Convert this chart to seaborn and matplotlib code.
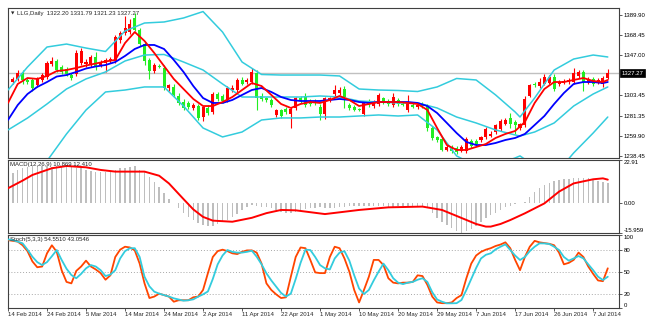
import numpy as np
import pandas as pd
import matplotlib
matplotlib.use("Agg")
import matplotlib.pyplot as plt
import matplotlib.transforms as mtransforms
import seaborn as sns

sns.set_style("white")
plt.rcParams['font.family'] = ['Liberation Sans', 'DejaVu Sans']

# ---------------- data ----------------
date_labels = ["14 Feb 2014", "24 Feb 2014", "5 Mar 2014", "14 Mar 2014", "24 Mar 2014",
               "2 Apr 2014", "11 Apr 2014", "22 Apr 2014", "1 May 2014", "10 May 2014",
               "20 May 2014", "29 May 2014", "7 Jun 2014", "17 Jun 2014", "26 Jun 2014",
               "7 Jul 2014"]
date_bars = [0, 8, 16, 24, 32, 40, 48, 56, 64, 72, 80, 88, 96, 104, 112, 120]

opens = [1301, 1318, 1321, 1327, 1320, 1320, 1314, 1320, 1323, 1337,
         1340, 1334, 1332, 1325, 1326, 1338, 1337, 1336, 1345, 1336,
         1338, 1340, 1340, 1363, 1370, 1371, 1386, 1373, 1358, 1341,
         1329, 1335, 1333, 1311, 1312, 1303, 1296, 1295, 1290, 1292,
         1280, 1290, 1285, 1305, 1303, 1298, 1309, 1309, 1320, 1318,
         1318, 1327, 1303, 1300, 1298, 1282, 1287, 1289, 1283, 1290,
         1300, 1303, 1297, 1296, 1291, 1283, 1298, 1305, 1306, 1310,
         1293, 1291, 1289, 1283, 1297, 1292, 1294, 1300, 1297, 1293,
         1298, 1294, 1287, 1293, 1291, 1294, 1292, 1268, 1258, 1256,
         1245, 1248, 1247, 1244, 1243, 1254, 1254, 1255, 1258, 1260,
         1264, 1267, 1273, 1279, 1275, 1268, 1271, 1303, 1315, 1313,
         1316, 1317, 1323, 1315, 1317, 1318, 1318, 1324, 1328, 1317,
         1321, 1318, 1315, 1322.20]
highs = [1321, 1323, 1330, 1331, 1322, 1322, 1323, 1327, 1340, 1344,
         1342, 1336, 1334, 1327, 1352, 1354, 1342, 1347, 1350, 1341,
         1343, 1345, 1368, 1372, 1388, 1385, 1392, 1376, 1361, 1343,
         1338, 1337, 1336, 1316, 1315, 1306, 1299, 1297, 1295, 1294,
         1292, 1293, 1307, 1307, 1305, 1313, 1314, 1322, 1323, 1322,
         1333, 1330, 1306, 1302, 1300, 1289, 1289, 1291, 1291, 1302,
         1303, 1306, 1299, 1299, 1294, 1302, 1302, 1314, 1312, 1313,
         1295, 1293, 1290, 1297, 1299, 1298, 1306, 1302, 1299, 1306,
         1300, 1296, 1304, 1295, 1294, 1296, 1294, 1270, 1260, 1258,
         1250, 1250, 1249, 1250, 1258, 1256, 1256, 1260, 1269, 1265,
         1273, 1278, 1279, 1284, 1277, 1274, 1303, 1316, 1318, 1322,
         1326, 1325, 1326, 1320, 1321, 1322, 1333, 1331, 1331, 1323,
         1323, 1322, 1324, 1331.79]
lows = [1295, 1316, 1319, 1316, 1316, 1308, 1312, 1318, 1321, 1335,
        1328, 1326, 1324, 1320, 1324, 1336, 1334, 1334, 1330, 1334,
        1328, 1338, 1338, 1360, 1368, 1369, 1372, 1356, 1336, 1321,
        1327, 1333, 1309, 1308, 1302, 1293, 1288, 1289, 1287, 1277,
        1276, 1282, 1283, 1297, 1295, 1296, 1307, 1307, 1314, 1316,
        1316, 1287, 1297, 1296, 1291, 1280, 1279, 1283, 1268, 1288,
        1295, 1291, 1292, 1293, 1277, 1278, 1296, 1303, 1304, 1290,
        1288, 1286, 1286, 1281, 1291, 1290, 1292, 1294, 1292, 1291,
        1292, 1292, 1285, 1290, 1289, 1290, 1265, 1255, 1253, 1243,
        1243, 1241, 1240, 1242, 1241, 1247, 1249, 1253, 1256, 1258,
        1262, 1265, 1271, 1268, 1262, 1266, 1269, 1301, 1312, 1311,
        1314, 1315, 1308, 1313, 1315, 1316, 1316, 1322, 1308, 1315,
        1313, 1316, 1312, 1321.23]
closes = [1319, 1321, 1327, 1320, 1318, 1311, 1322, 1325, 1338, 1340,
          1330, 1328, 1326, 1322, 1349, 1351, 1339, 1345, 1334, 1339,
          1341, 1342, 1366, 1370, 1376, 1380, 1374, 1358, 1340, 1329,
          1336, 1334, 1311, 1314, 1304, 1295, 1290, 1291, 1293, 1279,
          1291, 1284, 1305, 1299, 1297, 1311, 1311, 1320, 1316, 1320,
          1328, 1300, 1299, 1298, 1293, 1287, 1281, 1285, 1289, 1300,
          1297, 1293, 1294, 1295, 1283, 1300, 1300, 1309, 1309, 1301,
          1290, 1288, 1287, 1295, 1293, 1296, 1304, 1296, 1294, 1302,
          1294, 1293, 1295, 1291, 1293, 1292, 1268, 1257, 1255, 1245,
          1248, 1243, 1242, 1248, 1256, 1249, 1251, 1258, 1267, 1262,
          1271, 1276, 1277, 1273, 1271, 1272, 1299, 1314, 1314, 1318,
          1323, 1323, 1310, 1318, 1319, 1320, 1327, 1328, 1318, 1321,
          1316, 1320, 1322, 1327.27]

# Bollinger bands (sampled bars)
bb_bars = [0, 4, 8, 12, 16, 20, 24, 28, 32, 36, 40, 44, 48, 52, 56, 60, 64, 68,
           72, 76, 80, 84, 88, 92, 96, 100, 104, 105, 108, 112, 116, 120, 123]
bb_upper = [1309.0, 1333.7, 1355.2, 1358.4, 1354.1, 1350.4, 1372.4, 1381.0, 1382.1,
            1386.4, 1393.3, 1371.3, 1339.1, 1325.7, 1325.1, 1325.1, 1325.1, 1324.1,
            1310.1, 1309.0, 1308.5, 1307.4, 1312.3, 1321.4, 1319.8, 1303.7, 1285.4,
            1280.0, 1300.4, 1330.5, 1342.3, 1346.6, 1344.5]
bb_middle = [1266.1, 1278.9, 1294.0, 1310.1, 1320.9, 1328.4, 1340.2, 1346.6, 1347.2,
             1339.1, 1330.5, 1315.5, 1301.5, 1301.5, 1301.5, 1301.5, 1302.6, 1301.5,
             1297.2, 1296.1, 1295.1, 1295.1, 1289.7, 1280.0, 1273.6, 1266.1, 1260.7,
             1259.6, 1263.9, 1273.6, 1291.8, 1304.7, 1312.3]
bb_lower = [1223.1, 1224.2, 1232.8, 1261.8, 1287.5, 1306.9, 1309.0, 1312.3, 1312.3,
            1291.8, 1268.2, 1258.6, 1263.9, 1276.8, 1279.0, 1279.0, 1280.0, 1280.0,
            1281.1, 1282.2, 1281.1, 1282.2, 1266.1, 1238.2, 1227.4, 1228.5, 1236.0,
            1238.2, 1227.4, 1216.7, 1241.4, 1262.8, 1280.0]

# moving averages (every second bar + last)
ma_bars = list(range(0, 123, 2)) + [123]
ma_fast = [1295.1, 1315.5, 1321.9, 1320.9, 1324.1, 1329.4, 1330.5, 1332.7, 1335.3, 1337.5,
           1339.7, 1341.3, 1359.5, 1371.3, 1361.7, 1348.8, 1334.8, 1320.9, 1310.1, 1299.4,
           1291.8, 1291.8, 1296.1, 1301.5, 1309.0, 1316.5, 1313.3, 1303.7, 1294.0, 1289.7,
           1294.0, 1296.1, 1295.1, 1298.3, 1302.6, 1298.3, 1291.8, 1294.0, 1296.1, 1296.1,
           1296.1, 1295.1, 1294.0, 1287.6, 1268.2, 1249.9, 1244.6, 1244.6, 1247.8, 1251.0,
           1257.5, 1261.8, 1265.0, 1274.7, 1295.1, 1310.1, 1317.6, 1317.6, 1319.8, 1321.9,
           1318.7, 1317.6, 1319.8]
ma_slow = [1276.8, 1292.9, 1304.7, 1312.3, 1317.6, 1323.5, 1325.1, 1328.4, 1332.1, 1334.3,
           1335.9, 1339.1, 1345.6, 1353.1, 1357.4, 1357.4, 1353.1, 1341.3, 1328.4, 1313.3,
           1300.4, 1295.1, 1295.1, 1298.3, 1303.7, 1309.0, 1311.2, 1306.9, 1301.5, 1298.3,
           1297.2, 1297.2, 1297.2, 1298.3, 1299.4, 1298.3, 1296.1, 1295.1, 1296.1, 1296.1,
           1296.1, 1296.1, 1295.1, 1291.8, 1284.3, 1273.6, 1262.8, 1253.2, 1249.9, 1249.9,
           1252.1, 1255.3, 1257.5, 1261.8, 1271.4, 1281.1, 1294.0, 1305.8, 1315.5, 1317.6,
           1317.6, 1316.5, 1317.6]

price_ticks = [1389.90, 1368.45, 1347.00, 1303.45, 1281.35, 1259.90, 1238.45]

# MACD(12,26,9)
macd_main = [14.0, 16.1, 17.6, 18.5, 19.3, 19.7, 19.8, 19.8, 19.7, 19.3,
             19.7, 19.3, 19.3, 19.0, 18.5, 18.5, 17.6, 17.2, 16.7, 16.7,
             16.7, 16.7, 17.6, 18.5, 18.5, 19.3, 19.7, 17.6, 16.7, 14.0,
             11.3, 8.7, 5.4, 1.9, 0.1, -2.9, -5.6, -7.4, -9.2, -11.0,
             -11.9, -12.4, -12.4, -11.3, -10.1, -9.2, -7.4, -6.0, -3.8, -2.4,
             -1.1, -1.7, -2.0, -2.4, -2.9, -3.8, -4.7, -5.6, -5.6, -4.7,
             -3.8, -3.5, -2.9, -2.9, -2.4, -3.0, -2.9, -2.9, -2.4, -2.0,
             -1.7, -1.7, -1.7, -1.7, -1.7, -1.7, -1.7, -1.7, -2.0, -2.0,
             -1.7, -1.7, -1.7, -1.7, -1.7, -2.0, -2.9, -5.6, -8.3, -10.1,
             -11.9, -13.5, -15.0, -15.959, -15.2, -13.8, -12.4, -10.1, -8.3, -6.5,
             -5.2, -3.8, -2.4, -1.7, -0.6, -0.3, 0.6, 3.3, 6.0, 7.8,
             9.5, 10.8, 11.9, 12.2, 12.6, 12.6, 13.1, 13.5, 13.1, 13.1,
             12.6, 11.9, 11.4, 10.869]
sig_bars = [0, 3, 5, 9, 12, 16, 19, 22, 28, 31, 33, 36, 38, 40, 42, 46, 50, 53, 56, 59,
            62, 65, 72, 78, 85, 89, 92, 96, 98, 99, 101, 103, 106, 110, 113, 116, 120, 122, 123]
macd_signal = [7.8, 11.9, 14.9, 18.5, 19.7, 19.0, 17.6, 16.7, 16.7, 14.5,
               10.4, 2.0, -3.5, -7.5, -9.5, -10.1, -8.0, -5.5, -3.8, -4.0,
               -5.0, -6.0, -3.8, -2.4, -2.0, -3.8, -7.0, -11.3, -12.7, -12.7,
               -11.3, -9.2, -5.6, -0.3, 6.0, 10.4, 12.6, 13.1, 12.41]
macd_ticks = [22.91, 0.00, -15.959]

# Stochastic(5,3,3)
stoch_main = [93, 92, 91, 86, 78, 64, 56, 57, 75, 86,
              77, 52, 36, 34, 51, 57, 65, 57, 53, 48,
              39, 45, 70, 80, 84, 83, 79, 61, 34, 14,
              16, 20, 18, 16, 9, 11, 11, 11, 15, 16,
              25, 48, 70, 78, 80, 78, 75, 74, 77, 79,
              79, 76, 61, 34, 25, 19, 14, 15, 43, 70,
              83, 82, 66, 49, 48, 48, 70, 84, 82, 68,
              50, 25, 8, 25, 43, 66, 66, 59, 41, 35,
              34, 35, 35, 36, 45, 44, 32, 16, 8, 7,
              7, 8, 14, 18, 41, 61, 72, 77, 80, 82,
              85, 87, 90, 82, 66, 52, 70, 84, 92, 90,
              89, 88, 86, 76, 60, 62, 66, 76, 70, 57,
              47, 38, 37, 54.551]
stoch_signal = [94, 93, 91, 88.6, 80, 70.4, 63, 59, 63, 71,
                79.5, 66, 54, 45.4, 41, 47, 54.5, 59, 57, 52,
                44, 46, 52, 68, 78, 82, 82, 70, 43, 30,
                22.7, 20, 18, 16, 13.6, 12, 10.4, 11, 12.2, 15.9,
                19, 23, 40, 60, 72, 79.5, 77, 76, 76, 77,
                78.6, 70.4, 60, 47.7, 38, 29.5, 21, 16, 20, 40,
                62, 80, 79.5, 70, 59, 54.5, 53, 68, 76, 78,
                65, 45, 27, 19.5, 25, 38, 50, 61, 52, 41,
                35, 33, 35, 36, 39, 41, 36, 22, 12, 9,
                6.8, 6.8, 7, 11.3, 25, 40, 55, 68, 73, 75,
                80.4, 84, 87.2, 79.5, 72, 65.9, 70, 78, 84, 88.6,
                88.5, 87.7, 84, 79.5, 70, 65, 68, 71.3, 68.1, 60,
                52, 43.1, 38.6, 43.0546]
stoch_levels = [20, 50, 80]
stoch_ticks = [100, 80, 50, 20, 0]

# ---------------- figure ----------------
W, H = 651, 327
fig = plt.figure(figsize=(W / 100, H / 100), dpi=100)
fig.patch.set_facecolor("white")


def box(x0, y0, x1, y1):
    return [x0 / W, 1 - y1 / H, (x1 - x0) / W, (y1 - y0) / H]


ax_main = fig.add_axes(box(7.5, 8.3, 619, 157.5))
ax_macd = fig.add_axes(box(7.5, 160, 619, 232.7), sharex=ax_main)
ax_sto = fig.add_axes(box(7.5, 235, 619, 308.3), sharex=ax_main)

FS = 4.3
SPINE = "#404040"
CYAN = "#33CCDD"

for ax in (ax_main, ax_macd, ax_sto):
    ax.set_facecolor("white")
    for s in ax.spines.values():
        s.set_color(SPINE)
        s.set_linewidth(0.8)
    ax.yaxis.tick_right()
    ax.tick_params(axis="y", which="both", right=True, left=False, length=2.2,
                   width=0.6, color=SPINE, pad=1.2, labelsize=FS, labelcolor="black")
    ax.tick_params(axis="x", bottom=False, labelbottom=False)

n = len(closes)
bars = np.arange(n)
ax_main.set_xlim(-0.1, 125.3)


def line(ax, x, y, color, lw, z=3):
    sns.lineplot(x=list(x), y=list(y), ax=ax, color=color, linewidth=lw,
                 estimator=None, sort=False, legend=False, zorder=z)


# ---- main price panel ----
df = pd.DataFrame(dict(bar=bars, open=opens, high=highs, low=lows, close=closes))
up = df["close"] >= df["open"]
cols = np.where(up, "#FF0000", "#22EE22")
ax_main.axhline(closes[-1], color="#C0C0C0", lw=1.0, zorder=1)
ax_main.vlines(df["bar"], df["low"], df["high"], colors=cols, linewidth=0.8, zorder=2)
body_lo = np.minimum(df["open"], df["close"])
body_h = np.maximum((df["close"] - df["open"]).abs(), 0.9)
ax_main.bar(df["bar"], body_h, bottom=body_lo, width=0.62, color=cols, linewidth=0, zorder=2.1)

line(ax_main, bb_bars, bb_upper, CYAN, 1.1)
line(ax_main, bb_bars, bb_middle, CYAN, 1.1)
line(ax_main, bb_bars, bb_lower, CYAN, 1.1)
line(ax_main, ma_bars, ma_slow, "#0000FF", 1.3, z=3.2)
line(ax_main, ma_bars, ma_fast, "#FF0000", 1.3, z=3.3)

ax_main.set_ylim(1236.5, 1396.8)
ax_main.set_yticks(price_ticks)
ax_main.set_yticklabels([f"{v:.2f}" for v in price_ticks])
ax_main.set_ylabel("")
ax_main.set_xlabel("")

blend = mtransforms.blended_transform_factory(ax_main.transAxes, ax_main.transData)
ax_main.text(1.004, closes[-1], f"{closes[-1]:.2f}", transform=blend, ha="left", va="center",
             fontsize=FS, color="white", zorder=10, clip_on=False,
             bbox=dict(boxstyle="square,pad=0.25", fc="black", ec="black", lw=0.5))

fig.text(11 / W, 1 - 13.5 / H, "\u25BC", fontsize=3.2, ha="left", va="center",
         family=["DejaVu Sans"])
fig.text(17 / W, 1 - 13.5 / H,
         "LLG,Daily  %.2f %.2f %.2f %.2f" % (opens[-1], highs[-1], lows[-1], closes[-1]),
         fontsize=FS, ha="left", va="center")

# ---- MACD panel ----
ax_macd.bar(bars, macd_main, width=0.3, color="#BEBEBE", linewidth=0, zorder=2)
line(ax_macd, sig_bars, macd_signal, "#FF0000", 1.4)
ax_macd.set_ylim(macd_ticks[2], macd_ticks[0])
ax_macd.set_yticks(macd_ticks)
ax_macd.set_yticklabels(["22.91", "0.00", "-15.959"])
labs = ax_macd.get_yticklabels()
labs[0].set_va("top")
labs[2].set_va("bottom")
ax_macd.set_ylabel("")
fig.text(10 / W, 1 - 164.5 / H, "MACD(12,26,9) %.3f %.3f" % (macd_main[-1], macd_signal[-1]),
         fontsize=FS, ha="left", va="center")

# ---- Stochastic panel ----
for lv in stoch_levels:
    ax_sto.axhline(lv, color="#A8A8A8", lw=0.7, ls=(0, (1, 2)), zorder=1)
line(ax_sto, bars, stoch_main, "#FF4500", 1.3)
line(ax_sto, bars, stoch_signal, CYAN, 1.3, z=3.1)
ax_sto.set_ylim(0, 100)
ax_sto.set_yticks(stoch_ticks)
ax_sto.set_yticklabels([str(t) for t in stoch_ticks])
labs = ax_sto.get_yticklabels()
labs[0].set_va("top")
labs[-1].set_va("bottom")
ax_sto.set_ylabel("")
fig.text(10 / W, 1 - 240 / H, "Stoch(5,3,3) %.4f %.4f" % (stoch_main[-1], stoch_signal[-1]),
         fontsize=FS, ha="left", va="center")

ax_sto.set_xticks(date_bars)
ax_sto.set_xticklabels(date_labels)
ax_sto.tick_params(axis="x", bottom=True, labelbottom=True, length=2, width=0.6,
                   color=SPINE, pad=1.0, labelsize=FS)
for lab in ax_sto.get_xticklabels():
    lab.set_ha("left")
ax_sto.set_xlabel("")
ax_macd.set_xlabel("")

fig.savefig("out.png", dpi=100, facecolor="white")
